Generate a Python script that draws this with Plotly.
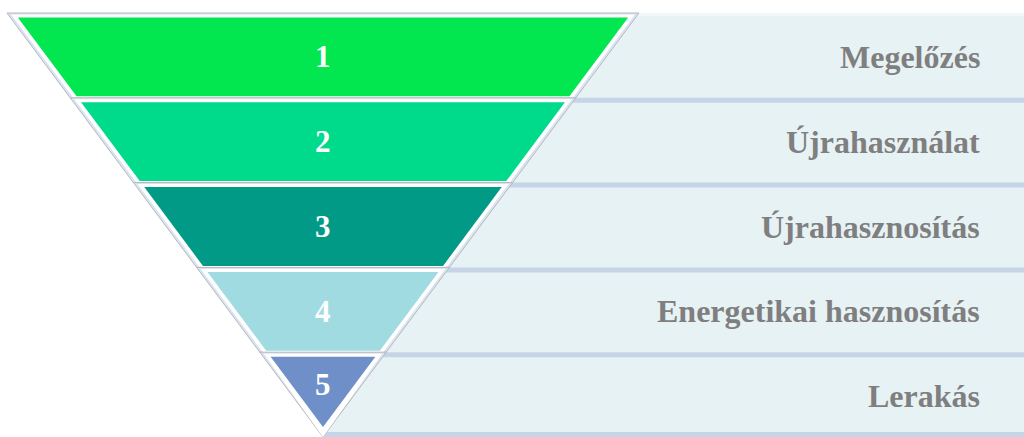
import plotly.graph_objects as go

# ---- data ----
levels = ["1", "2", "3", "4", "5"]
labels = ["Megelőzés", "Újrahasználat", "Újrahasznosítás", "Energetikai hasznosítás", "Lerakás"]
band_colors = ["#02E74F", "#00DA8B", "#009A86", "#9FDBE1", "#6E8FC8"]

# ---- layout geometry (pixels) ----
W, H = 1024, 437
top, apex_y = 13, 437
cx, half_top = 323, 316
n = len(levels)
row_h = (apex_y - top) / n


def hw(y):
    return half_top * (apex_y - y) / (apex_y - top)


fig = go.Figure()

# right-hand light background
fig.add_trace(go.Scatter(x=[cx, W, W, cx, cx], y=[top, top, apex_y, apex_y, top],
                         mode="lines", fill="toself", fillcolor="#E7F2F5",
                         line=dict(width=0), hoverinfo="skip", showlegend=False))
# faded top edge
fig.add_trace(go.Scatter(x=[cx, W, W, cx, cx], y=[top, top, top + 3, top + 3, top],
                         mode="lines", fill="toself", fillcolor="#F2F8FA",
                         line=dict(width=0), hoverinfo="skip", showlegend=False))
# separator bars
for i in range(n):
    yb = top + row_h * (i + 1)
    y0 = min(yb, apex_y - 5)
    fig.add_trace(go.Scatter(x=[cx, W, W, cx, cx], y=[y0, y0, y0 + 5, y0 + 5, y0],
                             mode="lines", fill="toself", fillcolor="#C6D4E8",
                             line=dict(width=0), hoverinfo="skip", showlegend=False))

# funnel bands
for i in range(n):
    y0 = top + row_h * i
    y1 = top + row_h * (i + 1)
    # outer frame (light blue edge)
    xs = [cx - hw(y0), cx + hw(y0), cx + hw(y1), cx - hw(y1), cx - hw(y0)]
    ys = [y0, y0, y1, y1, y0]
    fig.add_trace(go.Scatter(x=xs, y=ys, mode="lines", fill="toself", fillcolor="#D9E5F4",
                             line=dict(color="#B8B8B8", width=1), hoverinfo="skip", showlegend=False))
    # white inner frame
    a, b = y0 + 1.5, y1
    xs = [cx - hw(a) + 3, cx + hw(a) - 3, cx + max(hw(b) - 3, 0), cx - max(hw(b) - 3, 0), cx - hw(a) + 3]
    ys = [a, a, b, b, a]
    fig.add_trace(go.Scatter(x=xs, y=ys, mode="lines", fill="toself", fillcolor="#FFFFFF",
                             line=dict(width=0), hoverinfo="skip", showlegend=False))
    # colored band
    a, b = y0 + 4.5, y1 - 1.5
    ins = 7.5
    if i == n - 1:
        b = apex_y - ins * (apex_y - top) / half_top
    xs = [cx - hw(a) + ins, cx + hw(a) - ins, cx + max(hw(b) - ins, 0), cx - max(hw(b) - ins, 0), cx - hw(a) + ins]
    ys = [a, a, b, b, a]
    fig.add_trace(go.Scatter(x=xs, y=ys, mode="lines", fill="toself", fillcolor=band_colors[i],
                             line=dict(width=0), hoverinfo="skip", showlegend=False))

# texts
for i in range(n):
    yc = top + row_h * (i + 0.5) + 1.5
    ny = yc if i < n - 1 else yc - 12
    fig.add_annotation(x=cx, y=ny, text="<b>%s</b>" % levels[i], showarrow=False,
                       xanchor="center", yanchor="middle",
                       font=dict(family="Liberation Serif", size=31, color="#FFFFFF"))
    fig.add_annotation(x=982, y=yc, text="<b>%s</b>" % labels[i], showarrow=False,
                       xanchor="right", yanchor="middle",
                       font=dict(family="Liberation Serif", size=32, color="#7F7F7F"))

fig.update_layout(
    width=W, height=H, margin=dict(l=0, r=0, t=0, b=0),
    paper_bgcolor="#FFFFFF", plot_bgcolor="#FFFFFF",
    xaxis=dict(range=[0, W], visible=False, fixedrange=True),
    yaxis=dict(range=[H, 0], visible=False, fixedrange=True),
)

fig.write_html("out.html", config={"displayModeBar": False},
               post_script="document.body.style.margin='0';document.body.style.overflow='hidden';")
